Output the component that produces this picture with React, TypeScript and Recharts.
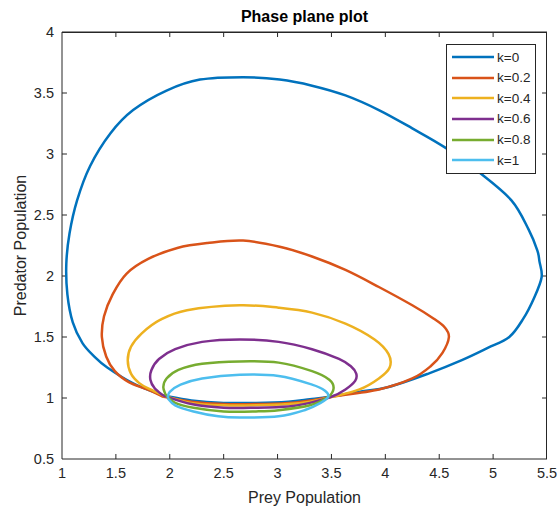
import React from 'react';
import { LineChart, Line, XAxis, YAxis, ReferenceLine } from 'recharts';

// phase-plane trajectories, [prey, predator] pairs
const k0: [number, number][] = [
  [1.94, 1.02], [2.2, 0.98], [2.5, 0.96], [2.8, 0.96], [3.1, 0.97], [3.3, 0.99], [3.48, 1.01],
  [3.75, 1.05], [4.03, 1.09], [4.4, 1.2], [4.71, 1.31], [4.95, 1.41], [5.15, 1.5], [5.28, 1.65],
  [5.38, 1.82], [5.45, 1.99], [5.43, 2.12], [5.41, 2.21], [5.33, 2.38], [5.17, 2.62], [4.87, 2.85],
  [4.56, 3.05], [4.25, 3.21], [3.94, 3.36], [3.63, 3.48], [3.32, 3.56], [3.02, 3.61], [2.68, 3.63],
  [2.28, 3.61], [1.97, 3.52], [1.66, 3.36], [1.45, 3.17], [1.26, 2.9], [1.14, 2.62], [1.07, 2.35],
  [1.04, 2.1], [1.05, 1.85], [1.1, 1.62], [1.19, 1.45], [1.3, 1.34], [1.42, 1.25], [1.66, 1.12],
  [1.94, 1.02],
];
const k02: [number, number][] = [
  [1.94, 1.01], [2.2, 0.97], [2.5, 0.95], [2.8, 0.95], [3.1, 0.96], [3.3, 0.98], [3.5, 1.01],
  [3.94, 1.07], [4.25, 1.16], [4.42, 1.26], [4.53, 1.37], [4.59, 1.5], [4.55, 1.58], [4.45, 1.65],
  [4.25, 1.76], [3.94, 1.91], [3.63, 2.05], [3.32, 2.16], [3.02, 2.24], [2.68, 2.29], [2.35, 2.27],
  [2.07, 2.23], [1.8, 2.14], [1.6, 2.02], [1.47, 1.85], [1.39, 1.67], [1.37, 1.5], [1.41, 1.34],
  [1.49, 1.22], [1.62, 1.13], [1.79, 1.07], [1.94, 1.01],
];
const k04: [number, number][] = [
  [1.94, 1.02], [2.2, 0.96], [2.5, 0.94], [2.8, 0.94], [3.1, 0.95], [3.3, 0.97], [3.51, 1.01],
  [3.76, 1.07], [3.94, 1.16], [4.04, 1.25], [4.03, 1.36], [3.9, 1.48], [3.63, 1.61], [3.32, 1.7],
  [3.01, 1.74], [2.65, 1.76], [2.16, 1.72], [1.91, 1.64], [1.74, 1.53], [1.64, 1.42], [1.61, 1.31],
  [1.64, 1.2], [1.72, 1.12], [1.82, 1.07], [1.94, 1.02],
];
const k06: [number, number][] = [
  [1.94, 1.02], [2.2, 0.95], [2.5, 0.92], [2.8, 0.92], [3.1, 0.93], [3.3, 0.96], [3.5, 1.01],
  [3.63, 1.07], [3.72, 1.14], [3.73, 1.2], [3.68, 1.26], [3.57, 1.32], [3.32, 1.4], [3.01, 1.46],
  [2.65, 1.48], [2.3, 1.46], [2.05, 1.4], [1.9, 1.32], [1.83, 1.23], [1.82, 1.15], [1.86, 1.08],
  [1.94, 1.02],
];
const k08: [number, number][] = [
  [1.96, 1.03], [2.05, 0.96], [2.22, 0.92], [2.5, 0.89], [2.8, 0.89], [3.01, 0.9], [3.3, 0.94],
  [3.47, 1.01], [3.52, 1.08], [3.48, 1.15], [3.32, 1.22], [3.01, 1.29], [2.65, 1.3], [2.3, 1.28],
  [2.08, 1.23], [1.97, 1.16], [1.94, 1.09], [1.96, 1.03],
];
const k1: [number, number][] = [
  [1.98, 1.0], [2.05, 0.94], [2.22, 0.89], [2.45, 0.85], [2.65, 0.84], [3.01, 0.85], [3.25, 0.9],
  [3.4, 0.96], [3.47, 1.01], [3.44, 1.06], [3.32, 1.11], [3.01, 1.18], [2.65, 1.19], [2.3, 1.16],
  [2.1, 1.11], [2.0, 1.05], [1.98, 1.0],
];

const seriesNames = ['k=0', 'k=0.2', 'k=0.4', 'k=0.6', 'k=0.8', 'k=1'];
const seriesData = [k0, k02, k04, k06, k08, k1];
const colors = ['#0072BD', '#D95319', '#EDB120', '#7E2F8E', '#77AC30', '#4DBEEE'];

const xTicks = [1, 1.5, 2, 2.5, 3, 3.5, 4, 4.5, 5, 5.5];
const yTicks = [0.5, 1, 1.5, 2, 2.5, 3, 3.5, 4];
const X_MIN = 1;
const X_MAX = 5.5;
const Y_MIN = 0.5;
const Y_MAX = 4;

const W = 558;
const H = 513;
const MARGIN = { top: 32, right: 11, bottom: 0, left: 0 };
const Y_AXIS_W = 62;
const X_AXIS_H = 54;

const AXIS = '#262626';
const FONT = '"Liberation Sans", Arial, Helvetica, sans-serif';
// inward tick length in data units (~5px)
const TICK_DX = 0.046;
const TICK_DY = 0.041;

// smooth curve through the points (Catmull-Rom), used as a d3 curve factory
const catmullRom = (context: any) => {
  let pts: [number, number][] = [];
  return {
    areaStart() {},
    areaEnd() {},
    lineStart() { pts = []; },
    point(x: number, y: number) { pts.push([+x, +y]); },
    lineEnd() {
      if (!pts.length) return;
      context.moveTo(pts[0][0], pts[0][1]);
      for (let i = 0; i < pts.length - 1; i++) {
        const p0 = pts[Math.max(i - 1, 0)];
        const p1 = pts[i];
        const p2 = pts[i + 1];
        const p3 = pts[Math.min(i + 2, pts.length - 1)];
        context.bezierCurveTo(
          p1[0] + (p2[0] - p0[0]) / 6, p1[1] + (p2[1] - p0[1]) / 6,
          p2[0] - (p3[0] - p1[0]) / 6, p2[1] - (p3[1] - p1[1]) / 6,
          p2[0], p2[1],
        );
      }
    },
  };
};

const PhaseLegend = () => (
  <div
    style={{
      position: 'absolute', left: 446, top: 44, width: 90, border: `1px solid ${AXIS}`,
      background: '#fff', padding: '2px 0', boxSizing: 'border-box',
    }}
  >
    {seriesNames.map((name, i) => (
      <div key={name} style={{ display: 'flex', alignItems: 'center', height: 20.6 }}>
        <svg width={50} height={6} style={{ display: 'block' }}>
          <line x1={5} y1={3} x2={47} y2={3} stroke={colors[i]} strokeWidth={2.5} />
        </svg>
        <span style={{ fontFamily: FONT, fontSize: 13.5, color: AXIS, lineHeight: 1 }}>{name}</span>
      </div>
    ))}
  </div>
);

export default function App() {
  const innerX = xTicks.filter((t) => t > X_MIN && t < X_MAX);
  const innerY = yTicks.filter((t) => t > Y_MIN && t < Y_MAX);
  const plotLeft = MARGIN.left + Y_AXIS_W;
  const plotTop = MARGIN.top;
  const plotW = W - MARGIN.right - plotLeft;
  const plotH = H - MARGIN.bottom - X_AXIS_H - plotTop;
  return (
    <div style={{ position: 'absolute', left: 0, top: 0, width: W, height: H, background: '#fff' }}>
      <LineChart width={W} height={H} margin={MARGIN}>
        <XAxis
          type="number"
          dataKey="x"
          domain={[X_MIN, X_MAX]}
          ticks={xTicks}
          allowDataOverflow
          height={X_AXIS_H}
          tickLine={false}
          tickMargin={3}
          stroke={AXIS}
          tick={{ fontSize: 14.5, fill: AXIS, fontFamily: FONT }}
          label={{ value: 'Prey Population', position: 'insideBottom', offset: 10, style: { fontSize: 16, fill: AXIS, fontFamily: FONT } }}
        />
        <YAxis
          type="number"
          domain={[Y_MIN, Y_MAX]}
          ticks={yTicks}
          allowDataOverflow
          width={Y_AXIS_W}
          tickLine={false}
          tickMargin={2}
          stroke={AXIS}
          tick={{ fontSize: 14.5, fill: AXIS, fontFamily: FONT }}
          label={{ value: 'Predator Population', angle: -90, position: 'insideLeft', offset: 20, style: { fontSize: 16, fill: AXIS, fontFamily: FONT, textAnchor: 'middle' } }}
        />
        <ReferenceLine
          y={Y_MAX}
          stroke={AXIS}
          strokeWidth={1}
          ifOverflow="visible"
          label={{ value: 'Phase plane plot', position: 'top', offset: 10, style: { fontSize: 16, fontWeight: 'bold', fill: '#000', fontFamily: FONT } }}
        />
        {/* inward tick marks on all four sides */}
        {innerX.map((t) => (
          <ReferenceLine key={`xb${t}`} segment={[{ x: t, y: Y_MIN }, { x: t, y: Y_MIN + TICK_DY }]} stroke={AXIS} strokeWidth={1} />
        ))}
        {innerX.map((t) => (
          <ReferenceLine key={`xt${t}`} segment={[{ x: t, y: Y_MAX }, { x: t, y: Y_MAX - TICK_DY }]} stroke={AXIS} strokeWidth={1} />
        ))}
        {innerY.map((t) => (
          <ReferenceLine key={`yl${t}`} segment={[{ x: X_MIN, y: t }, { x: X_MIN + TICK_DX, y: t }]} stroke={AXIS} strokeWidth={1} />
        ))}
        {innerY.map((t) => (
          <ReferenceLine key={`yr${t}`} segment={[{ x: X_MAX, y: t }, { x: X_MAX - TICK_DX, y: t }]} stroke={AXIS} strokeWidth={1} />
        ))}
        {seriesData.map((pts, i) => (
          <Line
            key={seriesNames[i]}
            name={seriesNames[i]}
            data={pts.map(([x, y]) => ({ x, y }))}
            dataKey="y"
            type={catmullRom as any}
            stroke={colors[i]}
            strokeWidth={2.5}
            dot={false}
            activeDot={false}
            isAnimationActive={false}
          />
        ))}
      </LineChart>
      {/* top and right edges of the axes box */}
      <div
        style={{
          position: 'absolute', left: plotLeft, top: plotTop - 0.5, width: plotW, height: plotH,
          borderTop: `1px solid ${AXIS}`, borderRight: `1px solid ${AXIS}`, boxSizing: 'border-box',
          pointerEvents: 'none',
        }}
      />
      <PhaseLegend />
    </div>
  );
}
